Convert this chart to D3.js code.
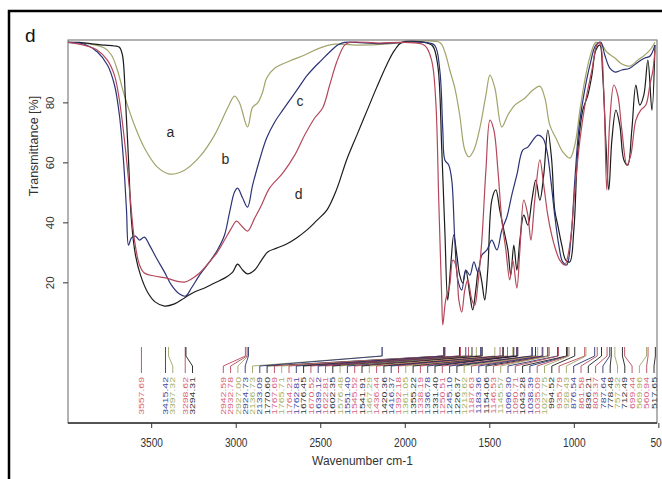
<!DOCTYPE html>
<html>
<head>
<meta charset="utf-8">
<script src="https://cdn.jsdelivr.net/npm/d3@7"></script>
<style>
body { margin: 0; background: #fff; }
text { font-family: Arial, "Liberation Sans", sans-serif; }
</style>
</head>
<body>
<div id="viz"></div>
<script>
// FTIR spectra a-d (wavenumber cm-1 / transmittance %)

var waveA = [3995,3865,3776,3735,3700,3659,3599,3540,3463,3392,3303,3214,3125,3048,3007,2977,2930,2900,2870,2841,2817,2770,2681,2592,2504,2415,2267,2119,2000,1793,1763,1734,1704,1675,1645,1621,1591,1556,1520,1496,1467,1426,1390,1349,1290,1242,1201,1171,1142,1100,1064,1023,994,964,935,905,870,834,805,757,716,669,621,580,550,520];
var transA = [100,99.5,98.1,95.8,90.8,82.4,72.4,64.8,58.4,56.1,57.4,61.8,69.1,78.1,82.1,79.8,71.8,78.4,79.8,83.4,88.1,91.4,93.8,95.8,98.1,99.4,99.1,99.4,100,100,96.8,90.8,84.8,75.8,64.1,61.8,64.1,71.4,82.4,89.1,84.8,71.8,75.8,79.1,81.4,84.1,85.4,81.4,72.4,67.4,63.4,61.4,65.8,77.4,87.4,95.1,100,99.1,96.8,94.8,92.8,92.1,94.1,95.8,97.4,100];

var waveB = [3995,3894,3818,3758,3717,3688,3658,3628,3599,3569,3540,3480,3409,3350,3303,3262,3214,3155,3108,3066,3025,2995,2965,2930,2888,2847,2800,2722,2651,2592,2533,2486,2444,2403,2356,2326,2149,2000,1882,1841,1817,1799,1781,1775,1758,1734,1716,1698,1680,1663,1645,1627,1603,1586,1568,1544,1520,1496,1473,1449,1426,1402,1379,1361,1337,1319,1296,1272,1254,1231,1201,1178,1154,1131,1107,1083,1054,1024,994,964,929,893,864,846,822,805,787,763,740,716,686,663,633,604,574,550,532,520];
var transB = [100,99,97.4,94,89,80.8,67.4,50.8,34.1,25.8,23.1,22.1,21.4,20.4,20.1,21.1,23.1,26.8,30.1,34.1,38.1,40.4,38.8,37.1,41.4,45.8,51.4,56.4,62.4,69.1,74.8,78.1,85.8,93.4,99.1,100,99.8,100,99,94,80.8,47.4,14.1,5.8,14.1,19.1,27.4,25.8,14.1,10.1,17.4,20.8,14.1,12.4,19.1,34.1,57.4,74.1,70.8,57.4,40.8,30.8,20.8,27.4,18.1,30.8,47.4,42.4,34.1,47.4,60.8,52.4,42.4,35.8,30.8,27.4,25.8,32.4,50.8,67.4,80.8,90.8,99.1,100,82.4,50.8,74.1,85.8,82.4,70.8,59.1,62.4,74.1,77.4,79.1,85.8,90.8,97.4];

var waveC = [3995,3894,3818,3758,3717,3688,3664,3646,3634,3617,3593,3569,3540,3510,3469,3421,3380,3332,3297,3262,3214,3155,3108,3066,3036,3007,2989,2959,2930,2900,2859,2817,2770,2722,2663,2622,2580,2533,2492,2444,2397,2356,2149,2000,1882,1823,1793,1775,1763,1740,1722,1704,1686,1663,1639,1615,1591,1568,1544,1514,1485,1455,1426,1396,1367,1337,1302,1272,1242,1213,1183,1160,1136,1113,1089,1066,1042,1018,994,971,941,905,870,840,817,787,757,716,669,621,580,550,520];
var transC = [100,99.4,96.8,92.4,85.8,75.8,60.8,44.1,32.4,34.8,35.4,34.1,35.1,32.4,28.1,23.4,19.1,16.1,15.4,18.1,22.4,26.8,30.8,35.8,43.4,50.1,51.4,48.1,45.1,52.4,60.8,68.1,73.4,77.4,82.1,85.4,88.8,91.8,94.1,96.8,99.1,100,99.6,100,100,99,90.8,70.8,60.8,59.1,54.1,34.1,20.8,17.4,24.1,22.4,26.8,23.4,29.1,30.8,34.1,30.8,37.4,41.8,49.1,55.8,64.1,65.1,67.4,69.1,68.1,64.1,54.1,42.4,32.4,26.8,25.8,34.1,54.1,70.8,82.4,92.4,99.1,100,95.8,91.4,90.1,90.8,91.4,93.4,94.8,95.4,99.1];

var waveD = [3995,3924,3836,3776,3717,3688,3670,3652,3634,3617,3593,3563,3522,3475,3421,3362,3303,3244,3184,3125,3066,3018,2989,2959,2930,2888,2847,2811,2758,2699,2640,2580,2521,2462,2403,2344,2284,2225,2166,2107,2060,2018,1882,1835,1805,1781,1763,1746,1728,1710,1692,1675,1657,1639,1615,1598,1580,1562,1544,1527,1509,1485,1461,1438,1414,1390,1373,1355,1337,1319,1296,1272,1248,1225,1201,1178,1154,1131,1113,1095,1071,1048,1024,1000,976,947,917,893,870,846,829,811,793,775,751,728,704,681,657,633,610,586,562,538,520];
var transD = [100,100,99.4,99.1,98.8,98.4,95.8,80.8,60.8,40.8,29.1,22.4,16.8,13.4,12.1,12.8,14.8,16.8,18.1,19.8,21.4,23.4,26.1,24.1,22.8,24.1,27.4,30.1,31.4,32.8,34.8,37.4,40.6,44,51,60.8,69,77,85,92.5,97.4,100,100,98.8,92.4,64.1,37.4,14.1,25.8,35.8,29.1,22.4,19.8,24.1,15.8,10.8,17.4,24.8,20.1,14.1,24.1,47.4,50.8,44.1,37.4,30.8,22.4,32.4,24.1,34.1,42.4,39.1,47.4,54.1,47.4,55.8,70.8,60.8,44.1,39.1,32.4,27.4,26.8,37.4,64.1,77.4,82.4,89.1,97.4,99.1,89.1,67.4,50.8,67.4,77.4,72.4,60.8,59.1,70.8,85.8,79.1,82.4,94.1,77.4,99.1];

// picked peaks + which spectrum they belong to
var peakWave = [3557.69,3415.42,3397.32,3298.62,3294.31,2942.59,2932.78,2927.00,2924.73,2136.73,2133.09,
    1770.60,1767.69,1765.71,1764.23,1762.81,1676.45,1670.52,1639.12,1622.81,1602.35,1576.48,
    1551.40,1545.52,1541.91,1467.29,1436.44,1420.36,1416.37,1392.18,1361.05,1355.22,1338.19,1336.78,1331.40,
    1250.51,1245.10,1226.37,1213.62,1187.63,1183.36,1154.06,1146.53,1145.57,1096.30,1090.71,
    1043.28,1038.39,1035.09,1027.75,994.52,935.79,928.43,876.54,861.58,836.21,803.37,787.64,778.48,
    757.32,712.49,699.44,569.96,560.94,517.65];
var peakSpec = ['b','c','a','b','d','b','b','a','c','a','c',
    'd','b','a','b','c','d','b','c','b','d','a',
    'c','b','d','a','b','d','c','b','a','d','b','c','d',
    'b','c','d','a','b','c','d','b','a','c','b',
    'd','c','b','a','d','b','a','c','b','d','b','c','d',
    'a','d','b','a','b','d'];

var xTicks = [3500, 3000, 2500, 2000, 1500, 1000, 500];
var yTicks = [20, 40, 60, 80];

// where the a/b/c/d letters sit (data units)
var tagName = ['a', 'b', 'c', 'd'];
var tagWave = [3387, 3061, 2620, 2628];
var tagTrans = [68.4, 59.4, 78.8, 47.8];

var spectra = [
    {name: 'a', wave: waveA, trans: transA},
    {name: 'd', wave: waveD, trans: transD},
    {name: 'c', wave: waveC, trans: transC},
    {name: 'b', wave: waveB, trans: transB}
];

var lineColor = {a: '#a2a46a', b: '#b4485a', c: '#2c3374', d: '#1c1c1c'};
var labelColor = {a: '#a3b066', b: '#d9637d', c: '#3b4a9e', d: '#333333'};

var box = {left: 68, right: 657, top: 40, bottom: 423};

var svg = d3.select('#viz')
    .append('svg')
    .attr('width', 662)
    .attr('height', 479)
    ;

var x = d3.scaleLinear()
    .domain([3992, 508])
    .range([box.left, box.right]);

var y = d3.scaleLinear()
    .domain([-26.9, 100.8])
    .range([box.bottom, box.top]);

// outer black frame of the panel
svg.append('path')
    .attr('d', 'M9,479 V11 H662')
    .attr('fill', 'none')
    .attr('stroke', '#000')
    .attr('stroke-width', 2.5)
    ;

svg.append('text')
    .text('d')
    .attr('x', 25)
    .attr('y', 42)
    .style('font-size', '19px')
    .attr('fill', '#111')
    ;

svg.append('clipPath')
    .attr('id', 'plotclip')
    .append('rect')
    .attr('x', box.left)
    .attr('y', box.top)
    .attr('width', box.right - box.left)
    .attr('height', box.bottom - box.top)
    ;

// spectra
var line = d3.line()
    .x(function(d) { return x(d[0]); })
    .y(function(d) { return y(d[1]); })
    .curve(d3.curveCatmullRom.alpha(0.5))
    ;

svg.append('g')
    .attr('clip-path', 'url(#plotclip)')
    .selectAll('path')
    .data(spectra)
    .enter()
    .append('path')
    .attr('d', function(s) { return line(d3.zip(s.wave, s.trans)); })
    .attr('fill', 'none')
    .attr('stroke', function(s) { return lineColor[s.name]; })
    .attr('stroke-width', 1.2)
    .attr('stroke-linejoin', 'round')
    ;

svg.selectAll('text.tag')
    .data(tagName)
    .enter()
    .append('text')
    .attr('class', 'tag')
    .text(function(d) { return d; })
    .attr('x', function(d, i) { return x(tagWave[i]); })
    .attr('y', function(d, i) { return y(tagTrans[i]); })
    .attr('text-anchor', 'middle')
    .style('font-size', '14px')
    .attr('fill', '#2a2a2a')
    ;

// peak labels: push right, then push back from the right edge
function spreadLabels(px, sp, maxX) {
    var lx = px.slice();
    for (var i = 1; i < lx.length; i++) {
        lx[i] = Math.max(px[i], lx[i - 1] + sp);
    }
    lx[lx.length - 1] = Math.min(lx[lx.length - 1], maxX);
    for (var j = lx.length - 2; j >= 0; j--) {
        lx[j] = Math.min(lx[j], lx[j + 1] - sp);
    }
    return lx;
}

var peakX = peakWave.map(function(w) { return x(w); });
var labelX = spreadLabels(peakX, 7.3, box.right - 3);

var peaks = svg.append('g').attr('class', 'peaks');

peaks.selectAll('path')
    .data(peakWave)
    .enter()
    .append('path')
    .attr('d', function(d, i) {
        return 'M' + peakX[i] + ',347 V356 L' + labelX[i] + ',366 V373';
    })
    .attr('fill', 'none')
    .attr('stroke', function(d, i) { return lineColor[peakSpec[i]]; })
    .attr('stroke-width', 0.9)
    ;

peaks.selectAll('text')
    .data(peakWave)
    .enter()
    .append('text')
    .text(function(d) { return d.toFixed(2); })
    .attr('transform', function(d, i) {
        return 'translate(' + labelX[i] + ',377) scale(0.72,1) rotate(-90)';
    })
    .attr('text-anchor', 'end')
    .attr('dy', '0.35em')
    .style('font-size', '10.5px')
    .attr('fill', function(d, i) { return labelColor[peakSpec[i]]; })
    ;

// plot box
svg.append('rect')
    .attr('x', box.left)
    .attr('y', box.top)
    .attr('width', box.right - box.left)
    .attr('height', box.bottom - box.top)
    .attr('fill', 'none')
    .attr('stroke', '#666')
    .attr('stroke-width', 1)
    ;

svg.append('line')
    .attr('x1', box.left)
    .attr('x2', box.right)
    .attr('y1', box.bottom)
    .attr('y2', box.bottom)
    .attr('stroke', '#333')
    .attr('stroke-width', 1.3)
    ;

// axes
var xAxis = svg.append('g')
    .attr('transform', 'translate(0,' + box.bottom + ')')
    .call(d3.axisBottom(x).tickValues(xTicks).tickSize(5).tickSizeOuter(0).tickFormat(d3.format('d')))
    ;
xAxis.select('.domain').remove();
xAxis.selectAll('line').attr('stroke', '#333');
xAxis.selectAll('text')
    .attr('y', 0)
    .attr('dy', 0)
    .attr('transform', 'translate(0,24) scale(0.78,1)')
    .style('font-size', '13px')
    .style('font-family', 'Arial, "Liberation Sans", sans-serif')
    .attr('fill', '#333')
    ;

var yAxis = svg.append('g')
    .attr('transform', 'translate(' + box.left + ',0)')
    .call(d3.axisLeft(y).tickValues(yTicks).tickSize(5).tickSizeOuter(0))
    ;
yAxis.select('.domain').remove();
yAxis.selectAll('line').attr('stroke', '#333');
yAxis.selectAll('text')
    .attr('x', 0)
    .attr('dy', 0)
    .attr('text-anchor', 'middle')
    .attr('transform', 'translate(-14,0) rotate(-90)')
    .style('font-size', '11.5px')
    .style('font-family', 'Arial, "Liberation Sans", sans-serif')
    .attr('fill', '#333')
    ;

svg.append('text')
    .text('Wavenumber cm-1')
    .attr('x', (box.left + box.right) / 2)
    .attr('y', 465)
    .attr('text-anchor', 'middle')
    .style('font-size', '12px')
    .attr('fill', '#333')
    ;

svg.append('text')
    .text('Transmittance [%]')
    .attr('transform', 'translate(38,146) rotate(-90)')
    .attr('text-anchor', 'middle')
    .style('font-size', '12.5px')
    .attr('fill', '#333')
    ;
</script>
</body>
</html>
